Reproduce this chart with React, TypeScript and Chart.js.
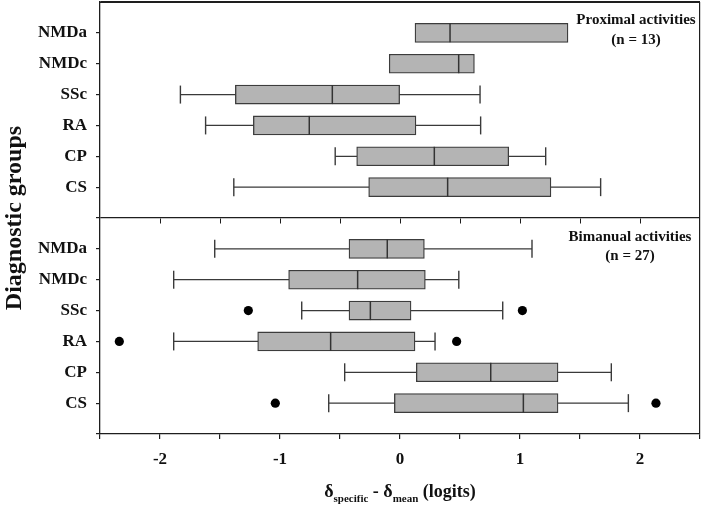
import React, { useEffect, useRef } from "react";
import { Chart, registerables } from "chart.js";

Chart.register(...registerables);

// ---- Data ----
const groups = ["NMDa", "NMDc", "SSc", "RA", "CP", "CS"];
const xTickValues = [-2.5, -2, -1.5, -1, -0.5, 0, 0.5, 1, 1.5, 2, 2.5];

const panelTitles = ["Proximal activities", "Bimanual activities"];
const panelN = ["(n = 13)", "(n = 27)"];

// Proximal activities (n = 13)
const proxMin = [null, null, -1.83, -1.62, -0.54, -1.385];
const proxQ1 = [0.125, -0.09, -1.372, -1.222, -0.361, -0.261];
const proxMed = [0.417, 0.489, -0.564, -0.756, 0.286, 0.397];
const proxQ3 = [1.4, 0.62, -0.003, 0.133, 0.906, 1.258];
const proxMax = [null, null, 0.667, 0.672, 1.214, 1.672];
const proxOutliers: number[][] = [[], [], [], [], [], []];

// Bimanual activities (n = 27)
const bimMin = [-1.544, -1.886, -0.819, -1.886, -0.461, -0.594];
const bimQ1 = [-0.425, -0.928, -0.425, -1.186, 0.136, -0.047];
const bimMed = [-0.106, -0.353, -0.247, -0.578, 0.756, 1.028];
const bimQ3 = [0.203, 0.211, 0.092, 0.125, 1.317, 1.317];
const bimMax = [1.1, 0.49, 0.856, 0.292, 1.761, 1.903];
const bimOutliers: number[][] = [[], [], [-1.264, 1.02], [-2.339, 0.472], [], [-1.039, 2.133]];

// row positions: panel 1 rows 1..6, divider at 7, panel 2 rows 8..13, range 0..14
const panels = [
  { min: proxMin, q1: proxQ1, med: proxMed, q3: proxQ3, max: proxMax, out: proxOutliers, offset: 1 },
  { min: bimMin, q1: bimQ1, med: bimMed, q3: bimQ3, max: bimMax, out: bimOutliers, offset: 8 },
];

const SERIF = "'Liberation Serif', 'Times New Roman', serif";
const DARK = "#3a3a3a";
const AXIS = "#1e1e1e";

export default function App() {
  const ref = useRef<HTMLCanvasElement | null>(null);

  useEffect(() => {
    if (!ref.current) return;

    const boxes: any[] = [];
    const whiskers: any[] = [];
    const medians: any[] = [];
    const outliers: any[] = [];
    const labelMap: Record<number, string> = {};

    panels.forEach((p) => {
      groups.forEach((g, i) => {
        const pos = p.offset + i;
        labelMap[pos] = g;
        boxes.push({ x: [p.q1[i], p.q3[i]], y: pos });
        medians.push({ x: p.med[i], y: pos });
        if (p.min[i] != null && p.max[i] != null) {
          whiskers.push({ x: p.min[i], y: pos });
          whiskers.push({ x: p.max[i], y: pos });
          whiskers.push({ x: null, y: null });
        }
        p.out[i].forEach((v) => outliers.push({ x: v, y: pos }));
      });
    });

    const yTickValues = [0, 1, 2, 3, 4, 5, 6, 7, 8, 9, 10, 11, 12, 13, 14];

    const zeroPad = (s: any) => {
      s.paddingTop = 0;
      s.paddingBottom = 0;
      s.paddingLeft = 0;
      s.paddingRight = 0;
    };

    const overlay = {
      id: "overlay",
      afterDraw(chart: any) {
        const { ctx, chartArea, scales } = chart;
        const xs = scales.x;
        const ys = scales.y;
        ctx.save();
        // ticks on divider
        const y7 = Math.round(ys.getPixelForValue(7)) + 0.5;
        ctx.strokeStyle = AXIS;
        ctx.lineWidth = 1;
        xTickValues.forEach((v) => {
          if (v <= -2.5 || v >= 2.5) return;
          const px = Math.round(xs.getPixelForValue(v)) + 0.5;
          ctx.beginPath();
          ctx.moveTo(px, y7);
          ctx.lineTo(px, y7 + 5);
          ctx.stroke();
        });
        // top border
        const yt = Math.round(chartArea.top) + 0.5;
        ctx.lineWidth = 1.2;
        ctx.beginPath();
        ctx.moveTo(chartArea.left, yt);
        ctx.lineTo(chartArea.right, yt);
        ctx.stroke();

        // panel labels
        ctx.fillStyle = "#111";
        ctx.font = `bold 15px ${SERIF}`;
        ctx.textAlign = "center";
        ctx.textBaseline = "middle";
        const cx1 = chartArea.right - 64;
        ctx.fillText(panelTitles[0], cx1, chartArea.top + 18);
        ctx.fillText(panelN[0], cx1, chartArea.top + 38);
        const cx2 = chartArea.right - 70;
        ctx.fillText(panelTitles[1], cx2, y7 + 19);
        ctx.fillText(panelN[1], cx2, y7 + 38);

        // x axis title with subscripts
        const parts: [string, boolean][] = [
          ["δ", false],
          ["specific", true],
          [" - δ", false],
          ["mean", true],
          [" (logits)", false],
        ];
        const mainFont = `bold 18px ${SERIF}`;
        const subFont = `bold 11px ${SERIF}`;
        let total = 0;
        parts.forEach(([t, sub]) => {
          ctx.font = sub ? subFont : mainFont;
          total += ctx.measureText(t).width;
        });
        let x = (chartArea.left + chartArea.right) / 2 - total / 2;
        const base = 497;
        ctx.textAlign = "left";
        ctx.textBaseline = "alphabetic";
        parts.forEach(([t, sub]) => {
          ctx.font = sub ? subFont : mainFont;
          ctx.fillText(t, x, sub ? base + 5 : base);
          x += ctx.measureText(t).width;
        });
        ctx.restore();
      },
    };

    const chart = new Chart(ref.current, {
      type: "bar",
      data: {
        datasets: [
          {
            type: "line",
            data: whiskers,
            borderColor: DARK,
            borderWidth: 1.2,
            pointStyle: "line",
            pointRotation: 90,
            pointRadius: 9,
            pointBorderColor: DARK,
            pointBorderWidth: 1.4,
            spanGaps: false,
            order: 3,
          } as any,
          {
            type: "bar",
            data: boxes,
            backgroundColor: "#b4b4b4",
            borderColor: "#3c3c3c",
            borderWidth: 1.3,
            borderSkipped: false,
            barThickness: 19,
            grouped: false,
            order: 2,
          } as any,
          {
            type: "line",
            data: medians,
            showLine: false,
            pointStyle: "line",
            pointRotation: 90,
            pointRadius: 9.5,
            pointBorderColor: "#333",
            pointBorderWidth: 1.5,
            order: 1,
          } as any,
          {
            type: "line",
            data: outliers,
            showLine: false,
            pointStyle: "circle",
            pointRadius: 4.6,
            pointBackgroundColor: "#000",
            pointBorderColor: "#000",
            pointBorderWidth: 0,
            order: 0,
          } as any,
        ],
      },
      options: {
        indexAxis: "y",
        responsive: false,
        animation: false,
        events: [],
        layout: { autoPadding: false, padding: { top: 2, right: 2, left: 0, bottom: 0 } },
        plugins: { legend: { display: false }, tooltip: { enabled: false } },
        scales: {
          x: {
            type: "linear",
            position: "bottom",
            min: -2.5,
            max: 2.5,
            offset: false,
            afterBuildTicks: (s: any) => {
              s.ticks = xTickValues.map((v) => ({ value: v }));
            },
            afterFit: (s: any) => {
              s.height = 74;
              zeroPad(s);
            },
            ticks: {
              autoSkip: false,
              maxRotation: 0,
              padding: 10,
              color: "#111",
              font: { family: SERIF, size: 17, weight: "bold" },
              callback: (v: any) => (Number.isInteger(Number(v)) ? String(v) : ""),
            },
            grid: {
              offset: false,
              drawOnChartArea: true,
              color: (c: any) => (c.tick && c.tick.value === 2.5 ? AXIS : "rgba(0,0,0,0)"),
              tickColor: AXIS,
              tickLength: 5,
              lineWidth: 1.2,
            },
            border: { display: true, color: AXIS, width: 1.3 },
          },
          y: {
            type: "linear",
            reverse: true,
            min: 0,
            max: 14,
            offset: false,
            afterBuildTicks: (s: any) => {
              s.ticks = yTickValues.map((v) => ({ value: v }));
            },
            afterFit: (s: any) => {
              s.width = 100;
              zeroPad(s);
            },
            ticks: {
              autoSkip: false,
              padding: 9,
              color: "#111",
              font: { family: SERIF, size: 17, weight: "bold" },
              callback: (v: any) => labelMap[Number(v)] || "",
            },
            grid: {
              offset: false,
              drawOnChartArea: true,
              color: (c: any) =>
                c.tick && (c.tick.value === 7 || c.tick.value === 0) ? AXIS : "rgba(0,0,0,0)",
              tickColor: (c: any) => (c.tick && c.tick.value === 0 ? "rgba(0,0,0,0)" : AXIS),
              tickLength: 4,
              lineWidth: 1.2,
            },
            border: { display: true, color: AXIS, width: 1.3 },
            title: {
              display: true,
              text: "Diagnostic groups",
              color: "#111",
              font: { family: SERIF, size: 24, weight: "bold" },
              padding: { top: 0, bottom: 0 },
            },
          },
        },
      } as any,
      plugins: [overlay],
    });

    return () => chart.destroy();
  }, []);

  return (
    <div style={{ position: "absolute", left: 0, top: 0, width: 702, height: 508 }}>
      <canvas ref={ref} width={702} height={508} />
    </div>
  );
}
